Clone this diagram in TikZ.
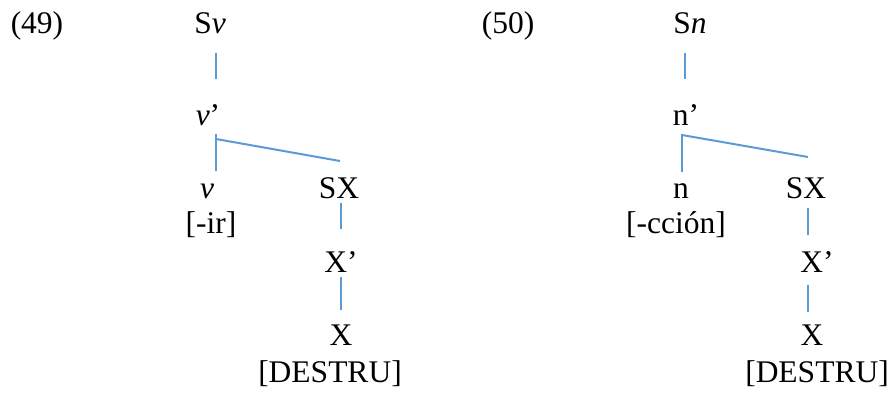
\documentclass[tikz,border=0pt]{standalone}
\usepackage{fontspec}
\setmainfont{Liberation Serif}
\usetikzlibrary{calc}
\definecolor{branchblue}{RGB}{91,155,213}
\tikzset{
  lbl/.style={anchor=base, inner sep=0pt, font=\fontsize{31.5}{36}\selectfont},
  branch/.style={draw=branchblue, line width=2pt},
}
\begin{document}
\begin{tikzpicture}[x=1pt,y=-1pt]
  \useasboundingbox (0,0) rectangle (892,392);

  % (49)
  \node[lbl] (ex49) at (37,33) {(49)};
  \node[lbl] (sv) at (210,33) {S\textit{v}};
  \node[lbl] (vbar) at (208,125) {\textit{v}’};
  \node[lbl] (vhead) at (207,198) {\textit{v}};
  \node[lbl] (vfeat) at (211,233) {[-ir]};
  \node[lbl] (sx) at (339,198) {SX};
  \node[lbl] (xbar) at (341,272) {X’};
  \node[lbl] (xhead) at (341,345) {X};
  \node[lbl] (xfeat) at (330,382) {[DESTRU]};
  \coordinate (vjoin) at (216,134);

  \draw[branch] ($(sv.base)+(6,20)$) -- ($(vbar.base)+(8,-46)$);
  \draw[branch] (vjoin) -- ($(vhead.base)+(9,-27)$);
  \draw[branch] ($(vjoin)+(0,5)$) -- ($(sx.base)+(1,-37)$);
  \draw[branch] ($(sx.base)+(2,5)$) -- ($(xbar.base)+(0,-43)$);
  \draw[branch] ($(xbar.base)+(0,5)$) -- ($(xhead.base)+(0,-35)$);

  % (50)
  \node[lbl] (ex50) at (508,33) {(50)};
  \node[lbl] (sn) at (690,33) {S\textit{n}};
  \node[lbl] (nbar) at (686,125) {n’};
  \node[lbl] (nhead) at (681,198) {n};
  \node[lbl] (nfeat) at (676,233) {[-cción]};
  \node[lbl] (sx2) at (806,198) {SX};
  \node[lbl] (xbar2) at (817,272) {X’};
  \node[lbl] (xhead2) at (812,345) {X};
  \node[lbl] (xfeat2) at (817,382) {[DESTRU]};
  \coordinate (njoin) at (682,134);

  \draw[branch] ($(sn.base)+(-5,20)$) -- ($(nbar.base)+(-1,-46)$);
  \draw[branch] (njoin) -- ($(nhead.base)+(1,-26)$);
  \draw[branch] ($(njoin)+(0,1)$) -- ($(sx2.base)+(2,-41)$);
  \draw[branch] ($(sx2.base)+(2,10)$) -- ($(xbar2.base)+(-9,-37)$);
  \draw[branch] ($(xbar2.base)+(-9,13)$) -- ($(xhead2.base)+(-4,-33)$);
\end{tikzpicture}
\end{document}
